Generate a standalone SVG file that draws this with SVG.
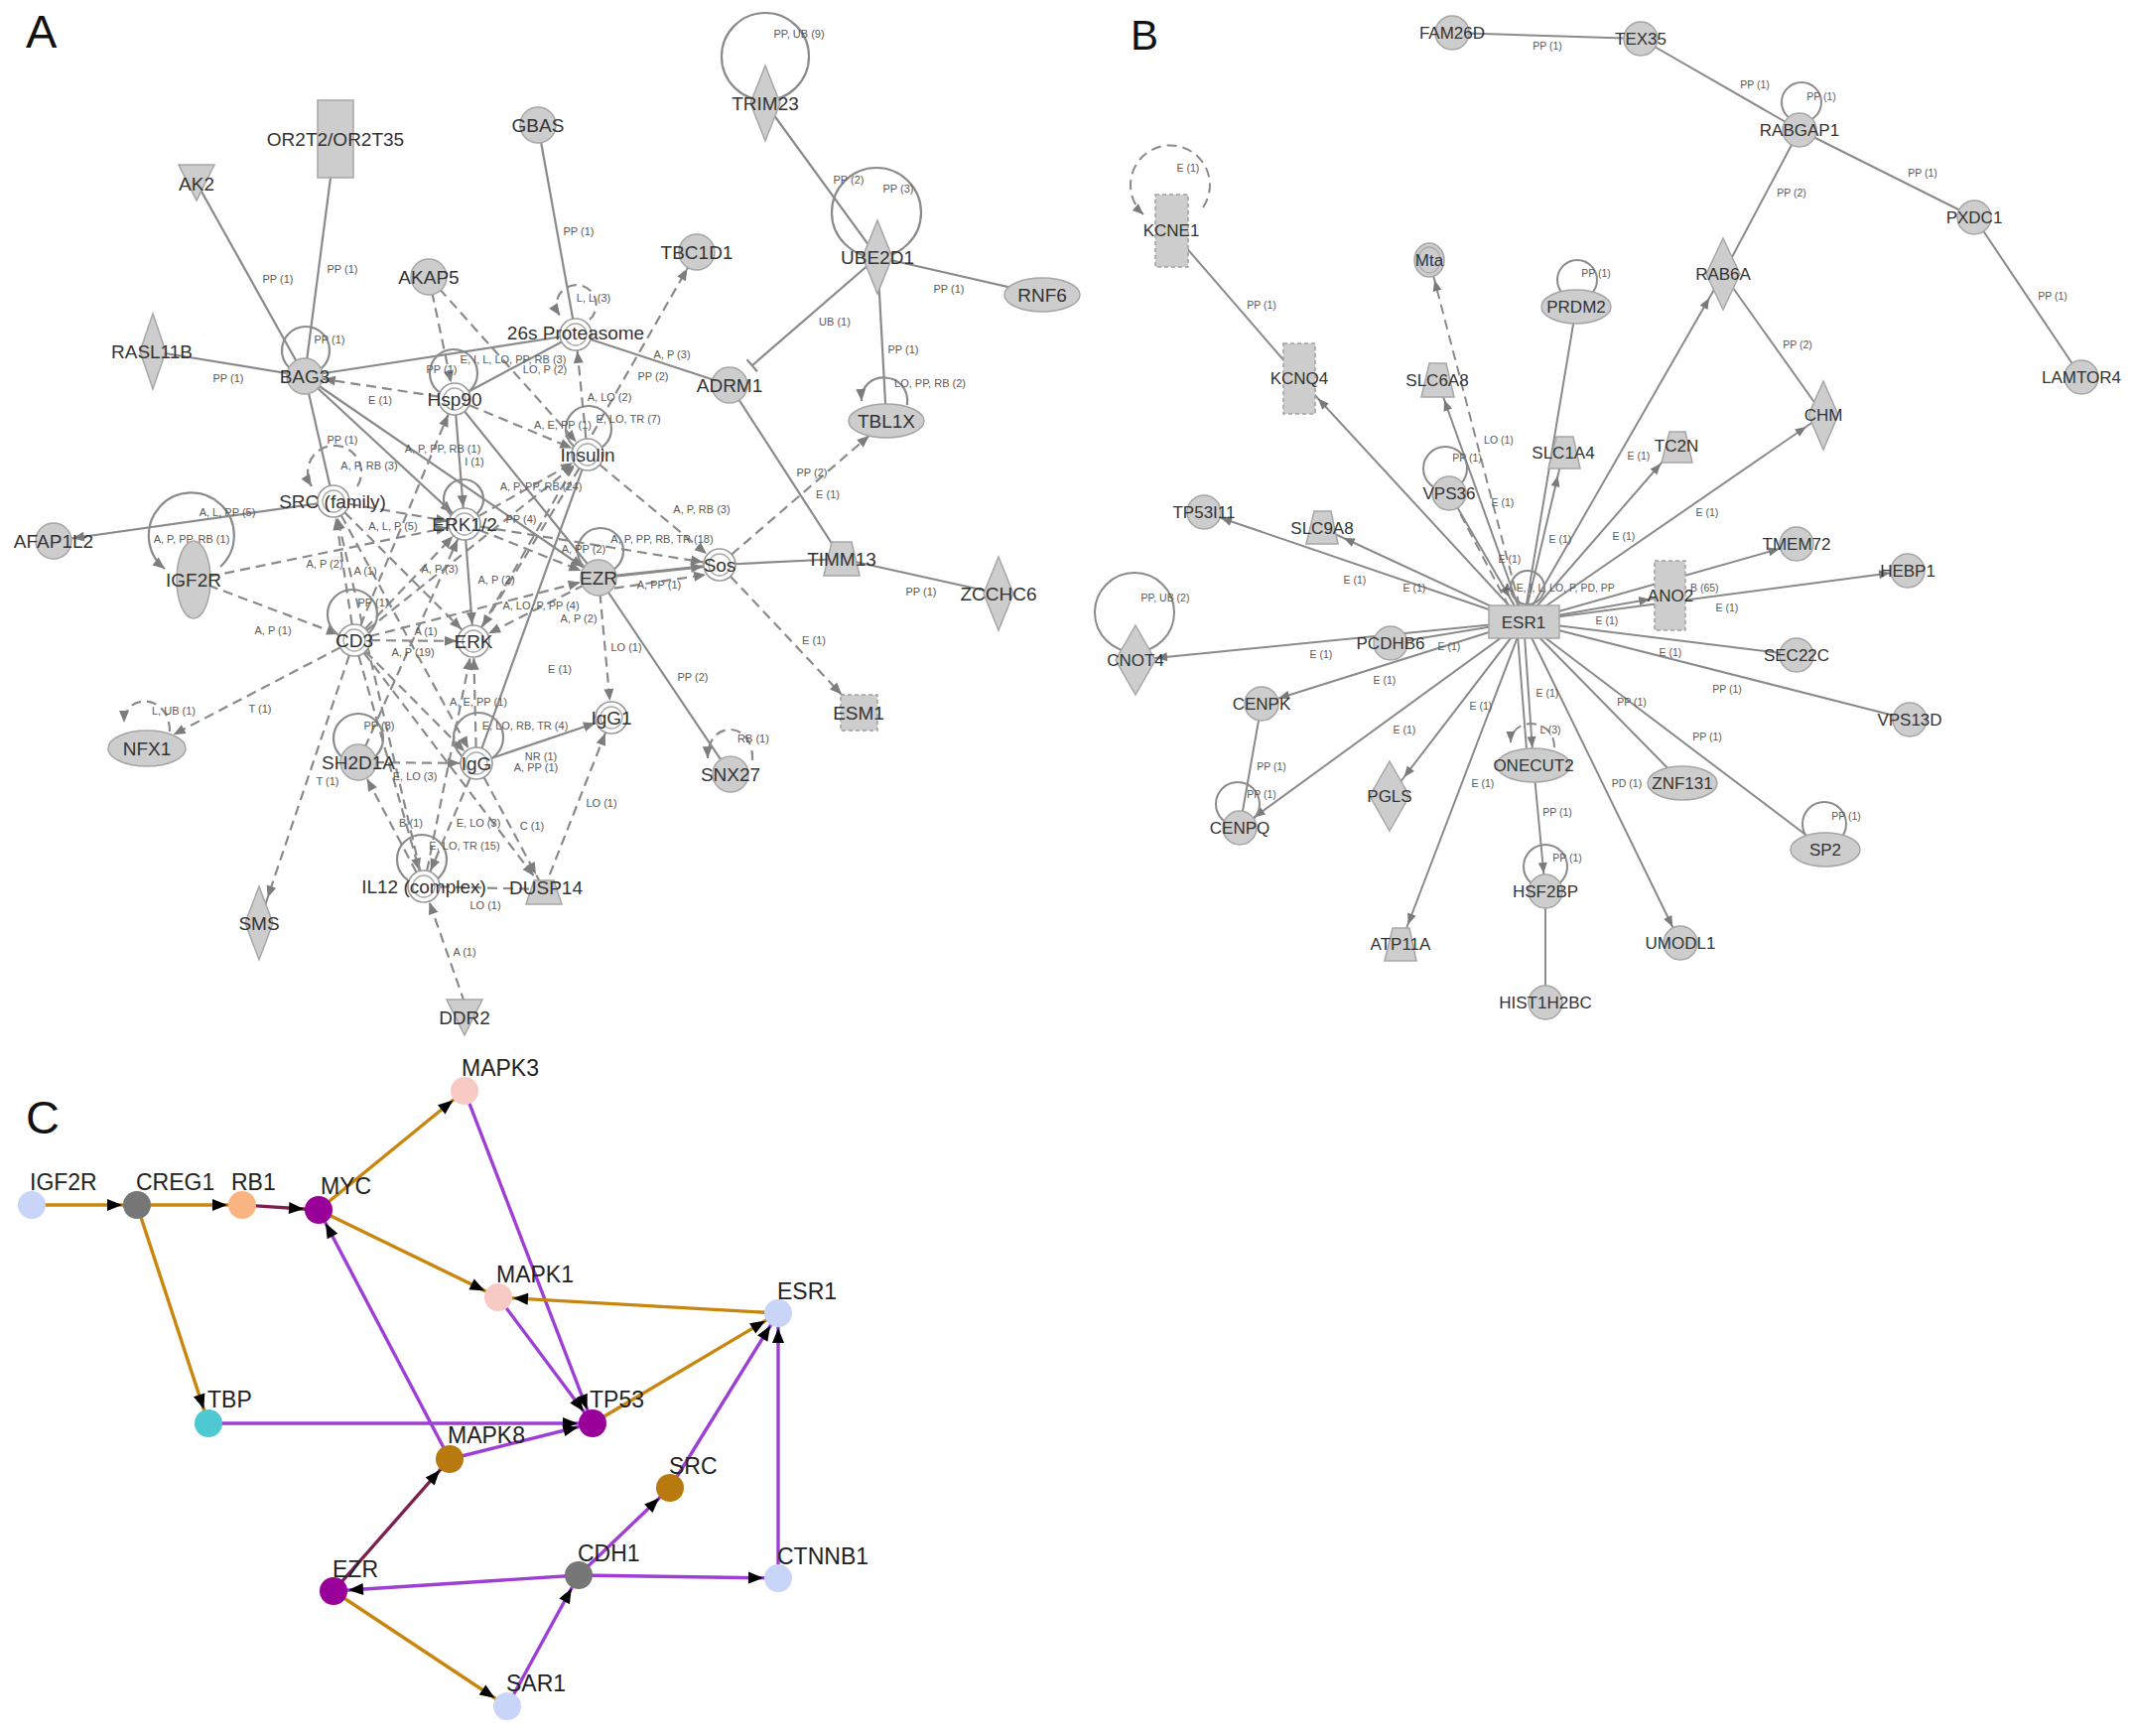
<svg xmlns="http://www.w3.org/2000/svg" width="2150" height="1749" viewBox="0 0 2150 1749">
<defs>
<style>
text{font-family:'Liberation Sans',Arial,sans-serif}
.pl{font-size:47px;fill:#111}
.la{font-size:19px;fill:#333;text-anchor:middle}
.lb{font-size:17px;fill:#333;text-anchor:middle}
.lc{font-size:23px;fill:#222}
.el{font-size:11px;fill:#585858;text-anchor:middle}
.eb{font-size:10.5px;fill:#585858;text-anchor:middle}
.ea{stroke:#8a8a8a;stroke-width:2.2;fill:none}
.eg{stroke:#8a8a8a;stroke-width:2;fill:none}
.d{stroke-dasharray:10 6}
.n{fill:#cdcdcd;stroke:#a6a6a6;stroke-width:1.5}
.nd{fill:#cdcdcd;stroke:#a0a0a0;stroke-width:1.5;stroke-dasharray:4 3}
.dc{fill:#fff;stroke:#9a9a9a;stroke-width:1.6}
.dci{fill:none;stroke:#aaaaaa;stroke-width:1.3}
.ec{stroke-width:3.4;fill:none}
.or{stroke:#c8860e}
.pu{stroke:#9d3fd4}
.ma{stroke:#7c2050}
</style>
<marker id="a0" markerUnits="userSpaceOnUse" markerWidth="12" markerHeight="10" refX="12" refY="5" orient="auto" overflow="visible"><path d="M0,0L12,5L0,10z" fill="#7d7d7d"/></marker>
<marker id="a14" markerUnits="userSpaceOnUse" markerWidth="12" markerHeight="10" refX="26" refY="5" orient="auto" overflow="visible"><path d="M0,0L12,5L0,10z" fill="#7d7d7d"/></marker>
<marker id="a17" markerUnits="userSpaceOnUse" markerWidth="12" markerHeight="10" refX="29" refY="5" orient="auto" overflow="visible"><path d="M0,0L12,5L0,10z" fill="#7d7d7d"/></marker>
<marker id="a19" markerUnits="userSpaceOnUse" markerWidth="12" markerHeight="10" refX="31" refY="5" orient="auto" overflow="visible"><path d="M0,0L12,5L0,10z" fill="#7d7d7d"/></marker>
<marker id="a23" markerUnits="userSpaceOnUse" markerWidth="12" markerHeight="10" refX="35" refY="5" orient="auto" overflow="visible"><path d="M0,0L12,5L0,10z" fill="#7d7d7d"/></marker>
<marker id="a25" markerUnits="userSpaceOnUse" markerWidth="12" markerHeight="10" refX="37" refY="5" orient="auto" overflow="visible"><path d="M0,0L12,5L0,10z" fill="#7d7d7d"/></marker>
<marker id="a27" markerUnits="userSpaceOnUse" markerWidth="12" markerHeight="10" refX="39" refY="5" orient="auto" overflow="visible"><path d="M0,0L12,5L0,10z" fill="#7d7d7d"/></marker>
<marker id="a30" markerUnits="userSpaceOnUse" markerWidth="12" markerHeight="10" refX="42" refY="5" orient="auto" overflow="visible"><path d="M0,0L12,5L0,10z" fill="#7d7d7d"/></marker>
<marker id="b0" markerUnits="userSpaceOnUse" markerWidth="11" markerHeight="9" refX="11" refY="4.5" orient="auto" overflow="visible"><path d="M0,0L11,4.5L0,9z" fill="#7a7a7a"/></marker>
<marker id="b18" markerUnits="userSpaceOnUse" markerWidth="11" markerHeight="9" refX="29" refY="4.5" orient="auto" overflow="visible"><path d="M0,0L11,4.5L0,9z" fill="#7a7a7a"/></marker>
<marker id="b21" markerUnits="userSpaceOnUse" markerWidth="11" markerHeight="9" refX="32" refY="4.5" orient="auto" overflow="visible"><path d="M0,0L11,4.5L0,9z" fill="#7a7a7a"/></marker>
<marker id="b24" markerUnits="userSpaceOnUse" markerWidth="11" markerHeight="9" refX="35" refY="4.5" orient="auto" overflow="visible"><path d="M0,0L11,4.5L0,9z" fill="#7a7a7a"/></marker>
<marker id="b28" markerUnits="userSpaceOnUse" markerWidth="11" markerHeight="9" refX="39" refY="4.5" orient="auto" overflow="visible"><path d="M0,0L11,4.5L0,9z" fill="#7a7a7a"/></marker>
<marker id="mc" markerUnits="userSpaceOnUse" markerWidth="15" markerHeight="12" refX="30" refY="6" orient="auto" overflow="visible"><path d="M0,0L15,6L0,12z" fill="#000"/></marker>
</defs>
<rect width="2150" height="1749" fill="#fff"/>

<text class="pl" x="26" y="48">A</text>
<text class="pl" x="1139" y="50" style="font-size:42px">B</text>
<text class="pl" x="26" y="1142">C</text>

<!-- ===== Panel A connectors ===== -->
<g id="a-connectors">
<path class="ea" d="M198,184L307,379"/>
<path class="ea" d="M333,179L307,379"/>
<path class="ea" d="M154,354L307,379"/>
<path class="ea" d="M307,379L580,337"/>
<path class="ea" d="M307,379L336,505"/>
<path class="ea" d="M542,126L580,337"/>
<path class="ea" d="M580,337L735,388"/>
<path class="ea" d="M458,402L580,337"/>
<path class="ea" d="M771,104L884,259"/>
<path class="ea" d="M884,259L1050,297"/>
<path class="ea" d="M884,259L893,424"/>
<path class="ea" d="M735,388L848,563"/>
<path class="ea" d="M725,569L848,563"/>
<path class="ea" d="M848,563L1006,598"/>
<path class="ea" d="M603,582L736,780"/>
<path class="ea" d="M592,458L480,769"/>
<path class="ea" d="M458,402L603,582"/>
<path class="ea" d="M307,379L468,528" marker-end="url(#a17)"/>
<path class="ea" d="M307,379L603,582" marker-end="url(#a19)"/>
<path class="ea" d="M458,402L468,528" marker-end="url(#a17)"/>
<path class="ea" d="M468,528L477,646" marker-end="url(#a17)"/>
<path class="ea" d="M336,505L54,545" marker-end="url(#a19)"/>
<path class="ea" d="M603,582L725,569" style="stroke-width:3" marker-end="url(#a17)"/>
<path class="ea" d="M480,769L616,723" marker-end="url(#a17)"/>
<path class="ea" d="M884,259L757.7,368.3"/>
<path class="ea" d="M752.5,362.3L762.9,374.3"/>
<!-- dashed -->
<path class="ea d" d="M458,402L307,379" marker-end="url(#a19)"/>
<path class="ea d" d="M432,279L458,402" marker-end="url(#a17)"/>
<path class="ea d" d="M432,279L592,458" marker-end="url(#a17)"/>
<path class="ea d" d="M592,458L580,337" marker-end="url(#a17)"/>
<path class="ea d" d="M477,646L702,254" marker-end="url(#a19)"/>
<path class="ea d" d="M468,528L725,569" marker-end="url(#a17)"/>
<path class="ea d" d="M592,458L725,569" marker-end="url(#a17)"/>
<path class="ea d" d="M603,595L725,577" marker-end="url(#a14)"/>
<path class="ea d" d="M725,569L865,718" marker-end="url(#a25)"/>
<path class="ea d" d="M725,569L893,424" marker-end="url(#a23)"/>
<path class="ea d" d="M603,582L616,723" marker-end="url(#a17)"/>
<path class="ea d" d="M548,896L616,723" marker-end="url(#a17)"/>
<path class="ea d" d="M195,584L357,645" marker-end="url(#a17)"/>
<path class="ea d" d="M195,584L468,528" marker-end="url(#a17)"/>
<path class="ea d" d="M357,645L148,754" marker-end="url(#a30)"/>
<path class="ea d" d="M357,645L261,930" marker-end="url(#a27)"/>
<path class="ea d" d="M357,645L477,646" marker-end="url(#a17)"/>
<path class="ea d" d="M357,645L336,505" marker-end="url(#a17)"/>
<path class="ea d" d="M336,505L477,646" marker-end="url(#a17)"/>
<path class="ea d" d="M357,645L468,528" marker-end="url(#a17)"/>
<path class="ea d" d="M357,645L592,458" marker-end="url(#a17)"/>
<path class="ea d" d="M357,645L603,582" marker-end="url(#a19)"/>
<path class="ea d" d="M357,645L427,893" marker-end="url(#a17)"/>
<path class="ea d" d="M357,645L480,769" marker-end="url(#a17)"/>
<path class="ea d" d="M357,645L548,896" marker-end="url(#a17)"/>
<path class="ea d" d="M361,768L480,769" marker-end="url(#a17)"/>
<path class="ea d" d="M427,893L361,768" marker-end="url(#a19)"/>
<path class="ea d" d="M480,769L427,893" marker-end="url(#a17)"/>
<path class="ea d" d="M480,769L477,646" marker-end="url(#a17)"/>
<path class="ea d" d="M427,893L477,646" marker-end="url(#a17)"/>
<path class="ea d" d="M468,1010L427,893" marker-end="url(#a17)"/>
<path class="ea d" d="M427,893L548,896"/>
<path class="ea d" d="M480,769L548,896" marker-end="url(#a17)"/>
<path class="ea d" d="M468,528L592,458" marker-end="url(#a17)"/>
<path class="ea d" d="M468,528L603,582" marker-end="url(#a19)"/>
<path class="ea d" d="M603,582L477,646" marker-end="url(#a17)"/>
<path class="ea d" d="M592,458L477,646" marker-end="url(#a17)"/>
<path class="ea d" d="M458,402L592,458" marker-end="url(#a17)"/>
<path class="ea d" d="M357,645L458,402" marker-end="url(#a17)"/>
<path class="ea d" d="M336,505L468,528" marker-end="url(#a17)"/>
<path class="ea d" d="M336,505L480,769" marker-end="url(#a17)"/>
<path class="ea d" d="M361,768L468,528" marker-end="url(#a17)"/>
<path class="ea d" d="M427,893L336,505" marker-end="url(#a17)"/>
<!-- self loops -->
<circle class="ea" cx="308" cy="353" r="24"/>
<circle class="ea" cx="457" cy="376" r="24"/>
<circle class="ea" cx="593" cy="432" r="23"/>
<circle class="ea" cx="605" cy="555" r="23"/>
<circle class="ea" cx="355" cy="619" r="25"/>
<circle class="ea" cx="361" cy="744" r="25"/>
<circle class="ea" cx="482" cy="743" r="25"/>
<circle class="ea" cx="425" cy="866" r="25"/>
<circle class="ea" cx="467" cy="503" r="20"/>
<circle class="ea" cx="771" cy="57" r="44"/>
<circle class="ea" cx="883" cy="214" r="45"/>
<path class="ea d" d="M594,322A20,20 0 1 0 564,318" marker-end="url(#a0)"/>
<path class="ea d" d="M360,490A27,27 0 1 0 314,490" marker-end="url(#a0)"/>
<path class="ea" d="M222,571A43,43 0 1 0 166,573" marker-end="url(#a0)"/>
<path class="ea d" d="M171,737C171,698 125,698 125,728" marker-end="url(#a0)"/>
<path class="ea" d="M914,408C918,372 866,372 868,404" marker-end="url(#a0)"/>
<path class="ea d" d="M758,766C760,725 712,725 713,764" marker-end="url(#a0)"/>
</g>

<g id="a-edge-labels">
<text class="el" x="805" y="38">PP, UB (9)</text>
<text class="el" x="280" y="285">PP (1)</text>
<text class="el" x="345" y="275">PP (1)</text>
<text class="el" x="332" y="346">PP (1)</text>
<text class="el" x="230" y="385">PP (1)</text>
<text class="el" x="383" y="407">E (1)</text>
<text class="el" x="345" y="447">PP (1)</text>
<text class="el" x="446" y="456">A, P, PP, RB (1)</text>
<text class="el" x="478" y="469">I (1)</text>
<text class="el" x="372" y="473">A, P, RB (3)</text>
<text class="el" x="517" y="366">E, I, L, LO, PP, RB (3)</text>
<text class="el" x="549" y="376">LO, P (2)</text>
<text class="el" x="445" y="376">PP (1)</text>
<text class="el" x="598" y="304">L, L (3)</text>
<text class="el" x="583" y="237">PP (1)</text>
<text class="el" x="677" y="361">A, P (3)</text>
<text class="el" x="658" y="383">PP (2)</text>
<text class="el" x="614" y="404">A, LO (2)</text>
<text class="el" x="633" y="426">E, LO, TR (7)</text>
<text class="el" x="567" y="432">A, E, PP (1)</text>
<text class="el" x="545" y="494">A, P, PP, RB (24)</text>
<text class="el" x="707" y="517">A, P, RB (3)</text>
<text class="el" x="667" y="547">A, P, PP, RB, TR (18)</text>
<text class="el" x="664" y="593">A, PP (1)</text>
<text class="el" x="588" y="557">A, PP (2)</text>
<text class="el" x="525" y="527">PP (4)</text>
<text class="el" x="396" y="534">A, L, P (5)</text>
<text class="el" x="327" y="572">A, P (2)</text>
<text class="el" x="368" y="579">A (1)</text>
<text class="el" x="443" y="577">A, P (3)</text>
<text class="el" x="500" y="588">A, P (2)</text>
<text class="el" x="545" y="614">A, LO, P, PP (4)</text>
<text class="el" x="583" y="627">A, P (2)</text>
<text class="el" x="631" y="656">LO (1)</text>
<text class="el" x="564" y="678">E (1)</text>
<text class="el" x="275" y="639">A, P (1)</text>
<text class="el" x="229" y="520">A, L, PP (5)</text>
<text class="el" x="193" y="547">A, P, PP, RB (1)</text>
<text class="el" x="262" y="718">T (1)</text>
<text class="el" x="175" y="720">L, UB (1)</text>
<text class="el" x="416" y="661">A, P (19)</text>
<text class="el" x="429" y="640">A (1)</text>
<text class="el" x="376" y="611">PP (1)</text>
<text class="el" x="482" y="711">A, E, PP (1)</text>
<text class="el" x="529" y="735">E, LO, RB, TR (4)</text>
<text class="el" x="382" y="735">PP (3)</text>
<text class="el" x="545" y="766">NR (1)</text>
<text class="el" x="540" y="777">A, PP (1)</text>
<text class="el" x="330" y="791">T (1)</text>
<text class="el" x="418" y="786">E, LO (3)</text>
<text class="el" x="414" y="833">B (1)</text>
<text class="el" x="482" y="833">E, LO (3)</text>
<text class="el" x="536" y="836">C (1)</text>
<text class="el" x="468" y="856">E, LO, TR (15)</text>
<text class="el" x="489" y="916">LO (1)</text>
<text class="el" x="468" y="963">A (1)</text>
<text class="el" x="606" y="813">LO (1)</text>
<text class="el" x="820" y="649">E (1)</text>
<text class="el" x="759" y="748">RB (1)</text>
<text class="el" x="698" y="686">PP (2)</text>
<text class="el" x="928" y="600">PP (1)</text>
<text class="el" x="818" y="480">PP (2)</text>
<text class="el" x="834" y="502">E (1)</text>
<text class="el" x="841" y="328">UB (1)</text>
<text class="el" x="855" y="185">PP (2)</text>
<text class="el" x="905" y="194">PP (3)</text>
<text class="el" x="956" y="295">PP (1)</text>
<text class="el" x="910" y="356">PP (1)</text>
<text class="el" x="937" y="390">LO, PP, RB (2)</text>
</g>

<!-- ===== Panel A nodes ===== -->
<g id="a-or2t2"><rect class="n" x="320" y="101" width="36" height="78"/><text class="la" x="338" y="147">OR2T2/OR2T35</text></g>
<g id="a-ak2"><polygon class="n" points="180,166 216,166 198,202"/><text class="la" x="198" y="192">AK2</text></g>
<g id="a-gbas"><circle class="n" cx="542" cy="126" r="18"/><text class="la" x="542" y="133">GBAS</text></g>
<g id="a-akap5"><circle class="n" cx="432" cy="279" r="18"/><text class="la" x="432" y="286">AKAP5</text></g>
<g id="a-rasl11b"><polygon class="n" points="154,316 167,354 154,392 141,354"/><text class="la" x="153" y="361">RASL11B</text></g>
<g id="a-bag3"><circle class="n" cx="307" cy="379" r="18"/><text class="la" x="307" y="386">BAG3</text></g>
<g id="a-tbc1d1"><circle class="n" cx="702" cy="254" r="18"/><text class="la" x="702" y="261">TBC1D1</text></g>
<g id="a-trim23"><polygon class="n" points="771,66 786,104 771,142 756,104"/><text class="la" x="771" y="111">TRIM23</text></g>
<g id="a-ube2d1"><polygon class="n" points="884,222 899,259 884,296 869,259"/><text class="la" x="884" y="266">UBE2D1</text></g>
<g id="a-rnf6"><ellipse class="n" cx="1050" cy="297" rx="38" ry="17"/><text class="la" x="1050" y="304">RNF6</text></g>
<g id="a-tbl1x"><ellipse class="n" cx="893" cy="424" rx="38" ry="17"/><text class="la" x="893" y="431">TBL1X</text></g>
<g id="a-adrm1"><circle class="n" cx="735" cy="388" r="18"/><text class="la" x="735" y="395">ADRM1</text></g>
<g id="a-26s"><circle class="dc" cx="580" cy="337" r="16"/><circle class="dci" cx="580" cy="337" r="11"/><text class="la" x="580" y="342">26s Proteasome</text></g>
<g id="a-hsp90"><circle class="dc" cx="458" cy="402" r="16"/><circle class="dci" cx="458" cy="402" r="11"/><text class="la" x="458" y="409">Hsp90</text></g>
<g id="a-insulin"><circle class="dc" cx="592" cy="458" r="16"/><circle class="dci" cx="592" cy="458" r="11"/><text class="la" x="592" y="465">Insulin</text></g>
<g id="a-src"><circle class="dc" cx="336" cy="505" r="16"/><circle class="dci" cx="336" cy="505" r="11"/><text class="la" x="335" y="512">SRC (family)</text></g>
<g id="a-erk12"><circle class="dc" cx="468" cy="528" r="16"/><circle class="dci" cx="468" cy="528" r="11"/><text class="la" x="468" y="535">ERK1/2</text></g>
<g id="a-afap1l2"><circle class="n" cx="54" cy="545" r="18"/><text class="la" x="54" y="552">AFAP1L2</text></g>
<g id="a-igf2r"><ellipse class="n" cx="195" cy="584" rx="17" ry="39"/><text class="la" x="195" y="591">IGF2R</text></g>
<g id="a-ezr"><circle class="n" cx="603" cy="582" r="18"/><text class="la" x="603" y="589">EZR</text></g>
<g id="a-sos"><circle class="dc" cx="725" cy="569" r="16"/><circle class="dci" cx="725" cy="569" r="11"/><text class="la" x="725" y="576">Sos</text></g>
<g id="a-timm13"><polygon class="n" points="838,546 858,546 866,580 830,580"/><text class="la" x="848" y="570">TIMM13</text></g>
<g id="a-zcchc6"><polygon class="n" points="1006,561 1021,598 1006,635 991,598"/><text class="la" x="1006" y="605">ZCCHC6</text></g>
<g id="a-cd3"><circle class="dc" cx="357" cy="645" r="16"/><circle class="dci" cx="357" cy="645" r="11"/><text class="la" x="357" y="652">CD3</text></g>
<g id="a-erk"><circle class="dc" cx="477" cy="646" r="16"/><circle class="dci" cx="477" cy="646" r="11"/><text class="la" x="477" y="653">ERK</text></g>
<g id="a-esm1"><rect class="nd" x="847" y="700" width="37" height="36"/><text class="la" x="865" y="725">ESM1</text></g>
<g id="a-igg1"><circle class="dc" cx="616" cy="723" r="16"/><circle class="dci" cx="616" cy="723" r="11"/><text class="la" x="616" y="730">IgG1</text></g>
<g id="a-nfx1"><ellipse class="n" cx="148" cy="754" rx="39" ry="18"/><text class="la" x="148" y="761">NFX1</text></g>
<g id="a-sh2d1a"><circle class="n" cx="361" cy="768" r="18"/><text class="la" x="361" y="775">SH2D1A</text></g>
<g id="a-igg"><circle class="dc" cx="480" cy="769" r="16"/><circle class="dci" cx="480" cy="769" r="11"/><text class="la" x="480" y="776">IgG</text></g>
<g id="a-snx27"><circle class="n" cx="736" cy="780" r="18"/><text class="la" x="736" y="787">SNX27</text></g>
<g id="a-il12"><circle class="dc" cx="427" cy="893" r="16"/><circle class="dci" cx="427" cy="893" r="11"/><text class="la" x="427" y="900">IL12 (complex)</text></g>
<g id="a-dusp14"><polygon class="n" points="538,887 558,887 566,911 530,911"/><text class="la" x="550" y="901">DUSP14</text></g>
<g id="a-sms"><polygon class="n" points="261,893 275,930 261,967 247,930"/><text class="la" x="261" y="937">SMS</text></g>
<g id="a-ddr2"><polygon class="n" points="450,1007 486,1007 468,1043"/><text class="la" x="468" y="1032">DDR2</text></g>

<!-- ===== Panel B connectors ===== -->
<g id="b-connectors">
<path class="eg" d="M1463,33L1653,39"/>
<path class="eg" d="M1653,39L1813,131"/>
<path class="eg" d="M1813,131L1989,219"/>
<path class="eg" d="M1813,131L1736,276"/>
<path class="eg" d="M1736,276L1837,418"/>
<path class="eg" d="M1989,219L2097,380"/>
<path class="eg" d="M1309,381L1180,232"/>
<path class="eg" d="M1535,626L1213,516" marker-end="url(#b18)"/>
<path class="eg" d="M1535,626L1332,532" marker-end="url(#b24)"/>
<path class="eg" d="M1535,626L1309,381" marker-end="url(#b28)"/>
<path class="eg" d="M1535,626L1448,383" marker-end="url(#b21)"/>
<path class="eg d" d="M1535,626L1440,262" marker-end="url(#b21)"/>
<path class="eg d" d="M1528,626L1462,500"/>
<path class="eg" d="M1460,497L1535,626" marker-end="url(#b28)"/>
<path class="eg" d="M1588,309L1535,626"/>
<path class="eg" d="M1535,626L1575,456" marker-end="url(#b24)"/>
<path class="eg" d="M1535,626L1689,449" marker-end="url(#b24)"/>
<path class="eg" d="M1535,626L1736,276" marker-end="url(#b28)"/>
<path class="eg" d="M1535,626L1837,418" marker-end="url(#b21)"/>
<path class="eg" d="M1535,626L1810,548" marker-end="url(#b18)"/>
<path class="eg" d="M1535,626L1922,575" marker-end="url(#b18)"/>
<path class="eg" d="M1535,626L1683,600" marker-end="url(#b21)"/>
<path class="eg" d="M1535,626L1810,660"/>
<path class="eg" d="M1535,626L1924,725"/>
<path class="eg" d="M1535,626L1144,665" marker-end="url(#b21)"/>
<path class="eg" d="M1535,626L1401,648"/>
<path class="eg" d="M1535,626L1271,709" marker-end="url(#b18)"/>
<path class="eg" d="M1535,626L1249,834" marker-end="url(#b18)"/>
<path class="eg" d="M1535,626L1400,802" marker-end="url(#b24)"/>
<path class="eg" d="M1535,626L1545,771" marker-end="url(#b18)"/>
<path class="eg" d="M1529,640L1538,755"/>
<path class="eg" d="M1535,626L1695,789"/>
<path class="eg" d="M1535,626L1839,856"/>
<path class="eg" d="M1535,626L1411,951" marker-end="url(#b21)"/>
<path class="eg" d="M1535,626L1693,950" marker-end="url(#b18)"/>
<path class="eg" d="M1545,771L1557,898" marker-end="url(#b18)"/>
<path class="eg" d="M1557,898L1557,1010"/>
<path class="eg" d="M1271,709L1249,834"/>
<!-- loops -->
<path class="eg d" d="M1212,209A40,40 0 1 0 1152,216" marker-end="url(#b0)"/>
<circle class="eg" cx="1815" cy="103" r="20"/>
<circle class="eg" cx="1589" cy="282" r="20"/>
<circle class="eg" cx="1456" cy="472" r="22"/>
<circle class="eg" cx="1539" cy="592" r="17"/>
<circle class="eg" cx="1143" cy="617" r="40"/>
<circle class="eg" cx="1247" cy="810" r="22"/>
<circle class="eg" cx="1557" cy="873" r="22"/>
<circle class="eg" cx="1838" cy="830" r="22"/>
<path class="eg d" d="M1566,753C1566,722 1522,722 1522,748" marker-end="url(#b0)"/>
</g>

<g id="b-edge-labels">
<text class="eb" x="1559" y="50">PP (1)</text>
<text class="eb" x="1768" y="89">PP (1)</text>
<text class="eb" x="1835" y="101">PP (1)</text>
<text class="eb" x="1937" y="178">PP (1)</text>
<text class="eb" x="1805" y="198">PP (2)</text>
<text class="eb" x="1197" y="173">E (1)</text>
<text class="eb" x="1271" y="311">PP (1)</text>
<text class="eb" x="1608" y="279">PP (1)</text>
<text class="eb" x="2068" y="302">PP (1)</text>
<text class="eb" x="1811" y="351">PP (2)</text>
<text class="eb" x="1510" y="447">LO (1)</text>
<text class="eb" x="1478" y="465">PP (1)</text>
<text class="eb" x="1651" y="463">E (1)</text>
<text class="eb" x="1720" y="520">E (1)</text>
<text class="eb" x="1514" y="510">E (1)</text>
<text class="eb" x="1572" y="547">E (1)</text>
<text class="eb" x="1636" y="544">E (1)</text>
<text class="eb" x="1521" y="567">E (1)</text>
<text class="eb" x="1365" y="588">E (1)</text>
<text class="eb" x="1425" y="596">E (1)</text>
<text class="eb" x="1740" y="616">E (1)</text>
<text class="eb" x="1619" y="629">E (1)</text>
<text class="eb" x="1174" y="606">PP, UB (2)</text>
<text class="eb" x="1331" y="663">E (1)</text>
<text class="eb" x="1460" y="655">E (1)</text>
<text class="eb" x="1683" y="661">E (1)</text>
<text class="eb" x="1395" y="689">E (1)</text>
<text class="eb" x="1740" y="698">PP (1)</text>
<text class="eb" x="1492" y="715">E (1)</text>
<text class="eb" x="1559" y="702">E (1)</text>
<text class="eb" x="1644" y="711">PP (1)</text>
<text class="eb" x="1415" y="739">E (1)</text>
<text class="eb" x="1562" y="739">L (3)</text>
<text class="eb" x="1720" y="746">PP (1)</text>
<text class="eb" x="1281" y="776">PP (1)</text>
<text class="eb" x="1494" y="793">E (1)</text>
<text class="eb" x="1639" y="793">PD (1)</text>
<text class="eb" x="1271" y="804">PP (1)</text>
<text class="eb" x="1569" y="822">PP (1)</text>
<text class="eb" x="1860" y="826">PP (1)</text>
<text class="eb" x="1579" y="868">PP (1)</text>
<text class="eb" x="1515" y="596" style="text-anchor:start">A, E, I, L, LO, P, PD, PP</text>
<text class="eb" x="1703" y="596" style="text-anchor:start">B (65)</text>
</g>

<!-- ===== Panel B nodes ===== -->
<g id="b-fam26d"><circle class="n" cx="1463" cy="33" r="17"/><text class="lb" x="1463" y="39">FAM26D</text></g>
<g id="b-tex35"><circle class="n" cx="1653" cy="39" r="17"/><text class="lb" x="1653" y="45">TEX35</text></g>
<g id="b-rabgap1"><circle class="n" cx="1813" cy="131" r="17"/><text class="lb" x="1813" y="137">RABGAP1</text></g>
<g id="b-pxdc1"><circle class="n" cx="1989" cy="219" r="17"/><text class="lb" x="1989" y="225">PXDC1</text></g>
<g id="b-lamtor4"><circle class="n" cx="2097" cy="380" r="17"/><text class="lb" x="2097" y="386">LAMTOR4</text></g>
<g id="b-kcne1"><rect class="nd" x="1164" y="196" width="33" height="73"/><text class="lb" x="1180" y="238">KCNE1</text></g>
<g id="b-mta"><ellipse class="n" cx="1440" cy="262" rx="15" ry="17"/><ellipse class="dci" cx="1440" cy="262" rx="11" ry="13"/><text class="lb" x="1440" y="268">Mta</text></g>
<g id="b-prdm2"><ellipse class="n" cx="1588" cy="309" rx="35" ry="17"/><text class="lb" x="1588" y="315">PRDM2</text></g>
<g id="b-rab6a"><polygon class="n" points="1736,240 1753,276 1736,312 1719,276"/><text class="lb" x="1736" y="282">RAB6A</text></g>
<g id="b-kcnq4"><rect class="nd" x="1293" y="346" width="32" height="71"/><text class="lb" x="1309" y="387">KCNQ4</text></g>
<g id="b-slc6a8"><polygon class="n" points="1440,366 1457,366 1465,400 1432,400"/><text class="lb" x="1448" y="389">SLC6A8</text></g>
<g id="b-chm"><polygon class="n" points="1837,384 1852,418 1837,453 1822,418"/><text class="lb" x="1837" y="424">CHM</text></g>
<g id="b-slc1a4"><polygon class="n" points="1568,440 1585,440 1592,472 1560,472"/><text class="lb" x="1575" y="462">SLC1A4</text></g>
<g id="b-tc2n"><polygon class="n" points="1682,435 1698,435 1705,466 1674,466"/><text class="lb" x="1689" y="455">TC2N</text></g>
<g id="b-vps36"><circle class="n" cx="1460" cy="497" r="17"/><text class="lb" x="1460" y="503">VPS36</text></g>
<g id="b-tp53i11"><circle class="n" cx="1213" cy="516" r="17"/><text class="lb" x="1213" y="522">TP53I11</text></g>
<g id="b-slc9a8"><polygon class="n" points="1324,515 1341,515 1348,548 1316,548"/><text class="lb" x="1332" y="538">SLC9A8</text></g>
<g id="b-tmem72"><circle class="n" cx="1810" cy="548" r="17"/><text class="lb" x="1810" y="554">TMEM72</text></g>
<g id="b-hebp1"><circle class="n" cx="1922" cy="575" r="17"/><text class="lb" x="1922" y="581">HEBP1</text></g>
<g id="b-ano2"><rect class="nd" x="1667" y="565" width="31" height="70"/><text class="lb" x="1683" y="606">ANO2</text></g>
<g id="b-esr1"><rect class="n" x="1500" y="610" width="71" height="33"/><text class="lb" x="1535" y="633">ESR1</text></g>
<g id="b-cnot4"><polygon class="n" points="1144,630 1164,665 1144,700 1124,665"/><text class="lb" x="1144" y="671">CNOT4</text></g>
<g id="b-pcdhb6"><circle class="n" cx="1401" cy="648" r="17"/><text class="lb" x="1401" y="654">PCDHB6</text></g>
<g id="b-sec22c"><circle class="n" cx="1810" cy="660" r="17"/><text class="lb" x="1810" y="666">SEC22C</text></g>
<g id="b-vps13d"><circle class="n" cx="1924" cy="725" r="17"/><text class="lb" x="1924" y="731">VPS13D</text></g>
<g id="b-cenpk"><circle class="n" cx="1271" cy="709" r="17"/><text class="lb" x="1271" y="715">CENPK</text></g>
<g id="b-pgls"><polygon class="n" points="1400,767 1420,802 1400,837 1380,802"/><text class="lb" x="1400" y="808">PGLS</text></g>
<g id="b-onecut2"><ellipse class="n" cx="1545" cy="771" rx="37" ry="17"/><text class="lb" x="1545" y="777">ONECUT2</text></g>
<g id="b-znf131"><ellipse class="n" cx="1695" cy="789" rx="35" ry="17"/><text class="lb" x="1695" y="795">ZNF131</text></g>
<g id="b-cenpq"><circle class="n" cx="1249" cy="834" r="17"/><text class="lb" x="1249" y="840">CENPQ</text></g>
<g id="b-sp2"><ellipse class="n" cx="1839" cy="856" rx="35" ry="17"/><text class="lb" x="1839" y="862">SP2</text></g>
<g id="b-hsf2bp"><circle class="n" cx="1557" cy="898" r="17"/><text class="lb" x="1557" y="904">HSF2BP</text></g>
<g id="b-atp11a"><polygon class="n" points="1403,935 1420,935 1427,968 1395,968"/><text class="lb" x="1411" y="957">ATP11A</text></g>
<g id="b-umodl1"><circle class="n" cx="1693" cy="950" r="17"/><text class="lb" x="1693" y="956">UMODL1</text></g>
<g id="b-hist1h2bc"><circle class="n" cx="1557" cy="1010" r="17"/><text class="lb" x="1557" y="1016">HIST1H2BC</text></g>

<!-- ===== Panel C connectors ===== -->
<g id="c-connectors">
<path class="ec or" d="M32,1214L138,1214" marker-end="url(#mc)"/>
<path class="ec or" d="M138,1214L244,1214" marker-end="url(#mc)"/>
<path class="ec ma" d="M244,1214L321,1219" marker-end="url(#mc)"/>
<path class="ec or" d="M138,1214L210,1434" marker-end="url(#mc)"/>
<path class="ec or" d="M321,1219L468,1099" marker-end="url(#mc)"/>
<path class="ec or" d="M321,1219L502,1307" marker-end="url(#mc)"/>
<path class="ec pu" d="M468,1099L597,1434" marker-end="url(#mc)"/>
<path class="ec pu" d="M502,1307L597,1434" marker-end="url(#mc)"/>
<path class="ec or" d="M784,1323L502,1307" marker-end="url(#mc)"/>
<path class="ec or" d="M597,1434L784,1323" marker-end="url(#mc)"/>
<path class="ec pu" d="M210,1434L597,1434" marker-end="url(#mc)"/>
<path class="ec pu" d="M453,1470L597,1434" marker-end="url(#mc)"/>
<path class="ec pu" d="M453,1470L321,1219" marker-end="url(#mc)"/>
<path class="ec ma" d="M336,1603L453,1470" marker-end="url(#mc)"/>
<path class="ec pu" d="M583,1587L336,1603" marker-end="url(#mc)"/>
<path class="ec pu" d="M583,1587L784,1590" marker-end="url(#mc)"/>
<path class="ec pu" d="M583,1587L675,1499" marker-end="url(#mc)"/>
<path class="ec pu" d="M675,1499L784,1323" marker-end="url(#mc)"/>
<path class="ec pu" d="M784,1590L784,1323" marker-end="url(#mc)"/>
<path class="ec or" d="M336,1603L511,1719" marker-end="url(#mc)"/>
<path class="ec pu" d="M511,1719L583,1587" marker-end="url(#mc)"/>
</g>

<!-- ===== Panel C nodes ===== -->
<g id="c-igf2r"><circle cx="32" cy="1214" r="14" fill="#c8d4f8"/><text class="lc" x="30" y="1199">IGF2R</text></g>
<g id="c-creg1"><circle cx="138" cy="1214" r="14" fill="#777777"/><text class="lc" x="137" y="1199">CREG1</text></g>
<g id="c-rb1"><circle cx="244" cy="1214" r="14" fill="#f9b482"/><text class="lc" x="233" y="1199">RB1</text></g>
<g id="c-myc"><circle cx="321" cy="1219" r="14" fill="#990099"/><text class="lc" x="323" y="1203">MYC</text></g>
<g id="c-mapk3"><circle cx="468" cy="1099" r="14" fill="#f8cac4"/><text class="lc" x="465" y="1084">MAPK3</text></g>
<g id="c-mapk1"><circle cx="502" cy="1307" r="14" fill="#f8cac4"/><text class="lc" x="500" y="1292">MAPK1</text></g>
<g id="c-esr1"><circle cx="784" cy="1323" r="14" fill="#c8d4f8"/><text class="lc" x="783" y="1309">ESR1</text></g>
<g id="c-tbp"><circle cx="210" cy="1434" r="14" fill="#4ec9d2"/><text class="lc" x="209" y="1418">TBP</text></g>
<g id="c-tp53"><circle cx="597" cy="1434" r="14" fill="#990099"/><text class="lc" x="594" y="1418">TP53</text></g>
<g id="c-mapk8"><circle cx="453" cy="1470" r="14" fill="#b8790f"/><text class="lc" x="451" y="1454">MAPK8</text></g>
<g id="c-src"><circle cx="675" cy="1499" r="14" fill="#b8790f"/><text class="lc" x="674" y="1485">SRC</text></g>
<g id="c-cdh1"><circle cx="583" cy="1587" r="14" fill="#777777"/><text class="lc" x="582" y="1573">CDH1</text></g>
<g id="c-ctnnb1"><circle cx="784" cy="1590" r="14" fill="#c8d4f8"/><text class="lc" x="783" y="1576">CTNNB1</text></g>
<g id="c-ezr"><circle cx="336" cy="1603" r="14" fill="#990099"/><text class="lc" x="335" y="1589">EZR</text></g>
<g id="c-sar1"><circle cx="511" cy="1719" r="14" fill="#c8d4f8"/><text class="lc" x="510" y="1704">SAR1</text></g>
</svg>
